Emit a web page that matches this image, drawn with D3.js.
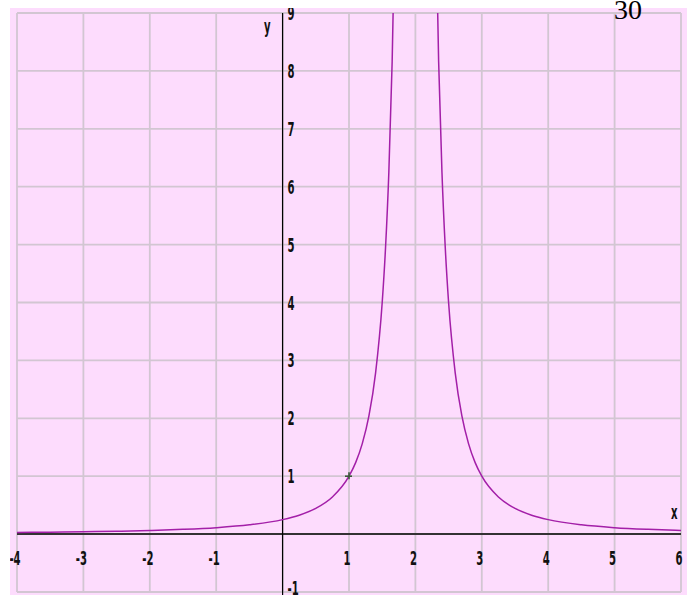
<!DOCTYPE html>
<html><head><meta charset="utf-8">
<script src="https://cdn.jsdelivr.net/npm/d3@7"></script>
<style>
html,body{margin:0;padding:0;background:#fff;}
svg{display:block;}
.lbl{font-family:"DejaVu Sans Condensed","DejaVu Sans",sans-serif;font-weight:bold;font-size:20px;fill:#111;}
.pg{font-family:"Liberation Serif","Times New Roman","DejaVu Serif",serif;font-size:28px;fill:#000;}
</style></head>
<body>
<script>
// Data (curve y = 1/(x-2)^2, two branches)
const leftX  = [-4, -3.5, -3, -2.5, -2, -1.5, -1, -0.5, 0, 0.25, 0.5, 0.75, 1, 1.1, 1.2, 1.3, 1.4, 1.5, 1.55, 1.6, 1.65, 1.7];
const leftY  = [0.028, 0.033, 0.04, 0.049, 0.0625, 0.082, 0.111, 0.16, 0.25, 0.327, 0.444, 0.64, 1, 1.235, 1.5625, 2.04, 2.78, 4, 4.94, 6.25, 8.16, 11.1];
const rightX = [2.3, 2.35, 2.4, 2.45, 2.5, 2.6, 2.7, 2.8, 2.9, 3, 3.25, 3.5, 3.75, 4, 4.5, 5, 5.5, 6];
const rightY = [11.1, 8.16, 6.25, 4.94, 4, 2.78, 2.04, 1.5625, 1.235, 1, 0.64, 0.444, 0.327, 0.25, 0.16, 0.111, 0.082, 0.0625];
const xTicks = [-4, -3, -2, -1, 1, 2, 3, 4, 5, 6];
const xTickLabels = ["-4", "-3", "-2", "-1", "1", "2", "3", "4", "5", "6"];
const yTicks = [-1, 1, 2, 3, 4, 5, 6, 7, 8, 9];
const yTickLabels = ["-1", "1", "2", "3", "4", "5", "6", "7", "8", "9"];
const markX = [1], markY = [1];
const pageLabel = "30";

const W = 699, H = 595;
const svg = d3.select("body").append("svg").attr("width", W).attr("height", H);

const x = d3.scaleLinear().domain([-4, 6]).range([17, 681]);
const y = d3.scaleLinear().domain([-1, 9]).range([592, 13]);

const pink = {x0: 10, y0: 8, x1: 687, y1: 595};
const defs = svg.append("defs");
defs.append("clipPath").attr("id", "pc")
  .append("rect").attr("x", pink.x0).attr("y", pink.y0).attr("width", pink.x1 - pink.x0).attr("height", pink.y1 - pink.y0);
defs.append("clipPath").attr("id", "plot")
  .append("rect").attr("x", 17).attr("y", 13).attr("width", 664).attr("height", 579);

svg.append("rect").attr("x", pink.x0).attr("y", pink.y0).attr("width", pink.x1 - pink.x0).attr("height", pink.y1 - pink.y0)
  .attr("fill", "#fddcfd");

const g = svg.append("g").attr("clip-path", "url(#pc)");

// grid
const gridX = d3.range(-4, 7);
const gridY = d3.range(-1, 10);
g.selectAll(".gx").data(gridX).join("line")
  .attr("x1", d => x(d)).attr("x2", d => x(d)).attr("y1", y(9)).attr("y2", y(-1))
  .attr("stroke", "#d2c6d2").attr("stroke-width", 1.8);
g.selectAll(".gy").data(gridY).join("line")
  .attr("y1", d => y(d)).attr("y2", d => y(d)).attr("x1", x(-4)).attr("x2", x(6))
  .attr("stroke", "#d2c6d2").attr("stroke-width", 1.8);

// axes
g.append("line").attr("x1", x(-4)).attr("x2", x(6)).attr("y1", y(0)).attr("y2", y(0))
  .attr("stroke", "#333").attr("stroke-width", 2);
g.append("line").attr("x1", x(0)).attr("x2", x(0)).attr("y1", y(9)).attr("y2", pink.y1)
  .attr("stroke", "#000").attr("stroke-width", 1.2);

// curve
const line = d3.line().x(d => x(d[0])).y(d => y(d[1])).curve(d3.curveMonotoneX);
const pc = g.append("g").attr("clip-path", "url(#plot)");
[[leftX, leftY], [rightX, rightY]].forEach(([xs, ys]) => {
  pc.append("path").datum(xs.map((v, i) => [v, ys[i]]))
    .attr("d", line).attr("fill", "none").attr("stroke", "#a31fa8").attr("stroke-width", 1.5);
});

// marker +
markX.forEach((mx, i) => {
  const cx = x(mx), cy = y(markY[i]);
  g.append("line").attr("x1", cx - 4).attr("x2", cx + 3).attr("y1", cy).attr("y2", cy).attr("stroke", "#3a5a3a").attr("stroke-width", 1.6);
  g.append("line").attr("x1", cx).attr("x2", cx).attr("y1", cy - 4).attr("y2", cy + 3).attr("stroke", "#3a5a3a").attr("stroke-width", 1.6);
});

// labels
const sx = 0.56;
function lbl(px, py, t, anchor) {
  g.append("text").attr("class", "lbl")
    .attr("transform", `translate(${px},${py}) scale(${sx},1)`)
    .attr("text-anchor", anchor || "middle").text(t);
}
xTicks.forEach((v, i) => lbl(x(v) - 2, 565, xTickLabels[i], "middle"));
yTicks.forEach((v, i) => {
  if (v === -1) lbl(x(0) + 5, 595, yTickLabels[i], "start");
  else lbl(x(0) + 5, y(v) + 7, yTickLabels[i], "start");
});
lbl(264, 33, "y", "start");
lbl(671, 519, "x", "start");

svg.append("text").attr("class", "pg").attr("x", 614).attr("y", 19).text(pageLabel);
</script>
</body></html>
